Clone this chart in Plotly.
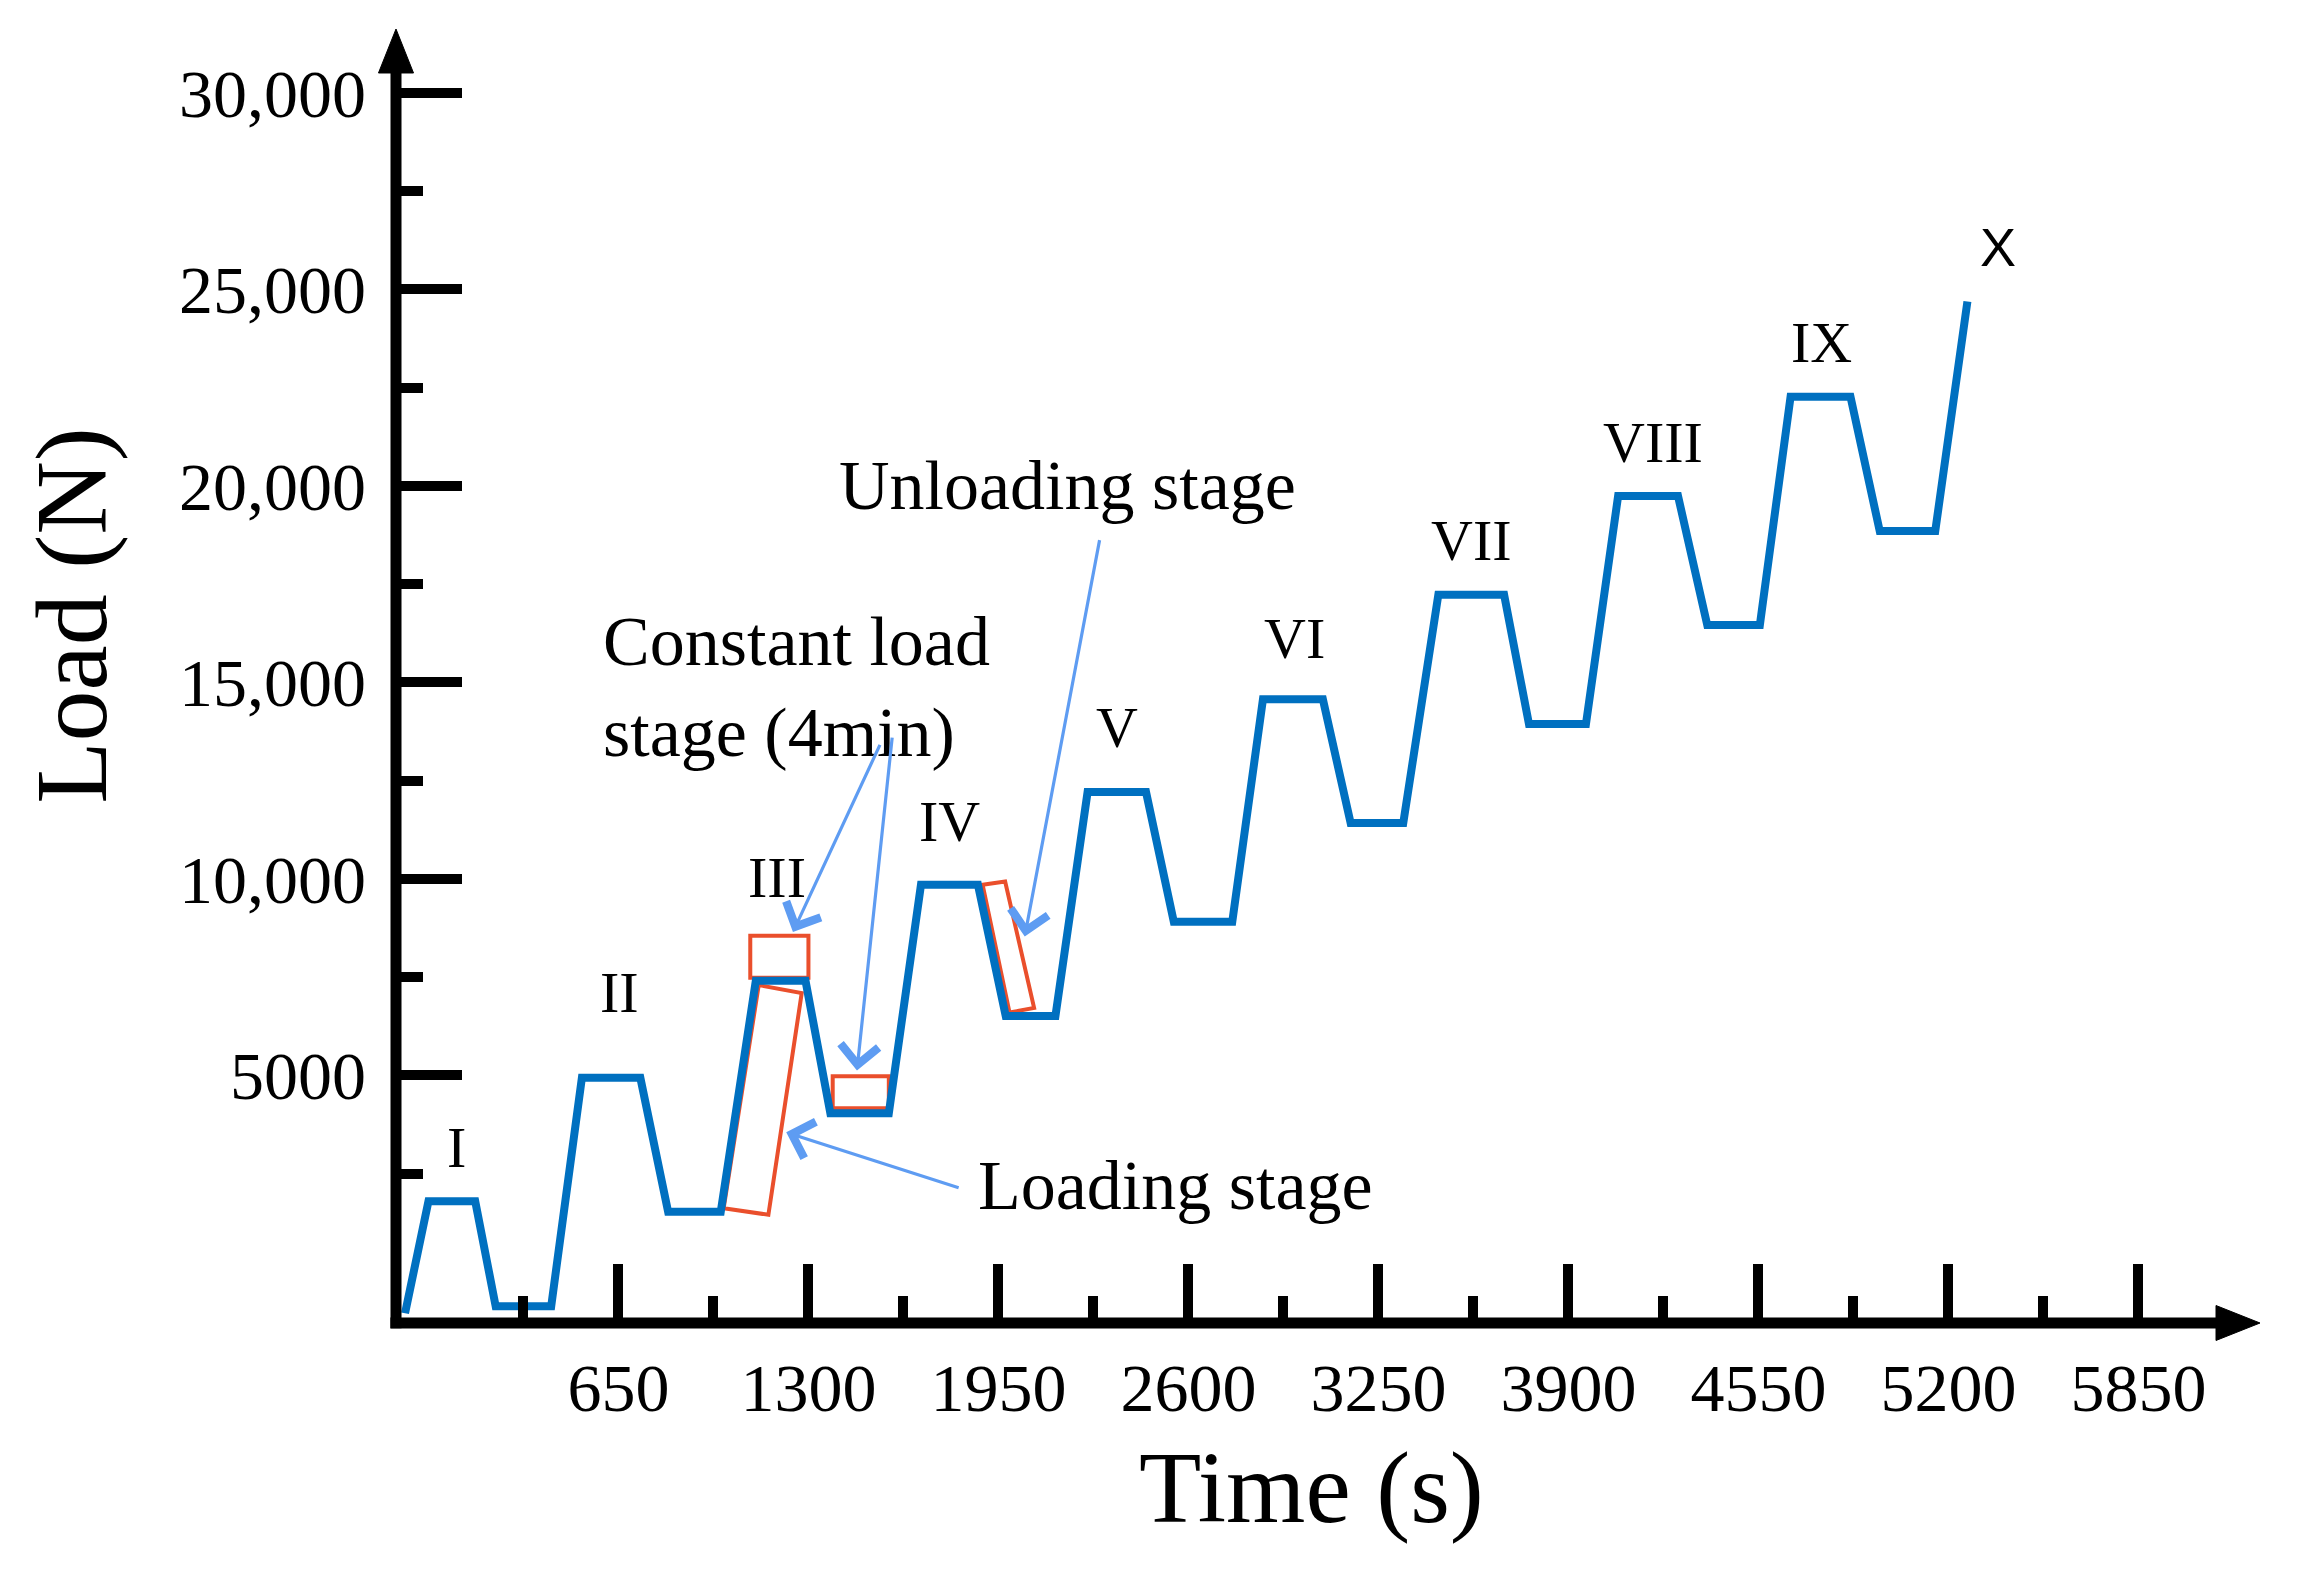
import plotly.graph_objects as go

# load path: time (s) and load (N)
time_s = [-80, 0, 160, 230, 420, 525, 725, 820, 1000, 1120, 1290, 1375, 1575,
          1685, 1880, 1975, 2145, 2255, 2455, 2550, 2750, 2855, 3060, 3155,
          3335, 3455, 3680, 3765, 3960, 4070, 4275, 4375, 4555, 4660, 4865,
          4965, 5155, 5265]
load_n = [-1050, 1800, 1800, -870, -870, 4940, 4940, 1530, 1530, 7410, 7410,
          4040, 4040, 9850, 9850, 6510, 6510, 12210, 12210, 8910, 8910, 14570,
          14570, 11420, 11420, 17230, 17230, 13940, 13940, 19740, 19740, 16460,
          16460, 22270, 22270, 18850, 18850, 24690]

# stage labels
stage_names = ["I", "II", "III", "IV", "V", "VI", "VII", "VIII", "IX", "X"]
stage_t = [96, 655, 1194, 1784, 2355, 2962, 3569, 4189, 4766, 5370]
stage_load = [3177, 7115, 10037, 11461, 13860, 16108, 18620, 21093, 23642, 26078]

# axis ticks
x_ticks = [650, 1300, 1950, 2600, 3250, 3900, 4550, 5200, 5850]
x_minor = [325, 975, 1625, 2275, 2925, 3575, 4225, 4875, 5525]
y_ticks = [5000, 10000, 15000, 20000, 25000, 30000]
y_labels = ["5000", "10,000", "15,000", "20,000", "25,000", "30,000"]
y_minor = [2500, 7500, 12500, 17500, 22500, 27500]

# callouts: text, x, y
callouts = [
    ("Constant load<br>stage (4min)", 589, 14872),
    ("Unloading stage", 1396, 20006),
    ("Loading stage", 1874, 2204),
]
# callout arrows: tail (t, N) -> head (t, N)
arrows = [
    (1547, 13448, 1247, 8650),
    (1587, 13635, 1466, 5127),
    (2297, 18657, 2040, 8537),
    (1819, 2129, 1224, 3553),
]
# red outlines around the marked stages
outlines = [
    [(1101, 7488), (1300, 7488), (1300, 8553), (1101, 8553)],
    [(1383, 4167), (1575, 4167), (1575, 4978), (1383, 4978)],
    [(1010, 1623), (1163, 1455), (1277, 7094), (1130, 7300)],
    [(1896, 9850), (1973, 9935), (2072, 6720), (1988, 6600)],
]

SERIF = "Liberation Serif"
BLUE = "#0070C0"
RED = "#EA4F2C"
LIGHT = "#5E9CF2"

fig = go.Figure()
fig.add_trace(go.Scatter(x=time_s, y=load_n, mode="lines",
                         line=dict(color=BLUE, width=8), hoverinfo="skip"))

for name, t, v in zip(stage_names, stage_t, stage_load):
    fam = "Liberation Sans" if name == "X" else SERIF
    fig.add_annotation(x=t, y=v, text=name, showarrow=False,
                       xanchor="center", yanchor="middle",
                       font=dict(family=fam, size=58 if name != "X" else 54, color="black"))

for txt, t, v in callouts:
    fig.add_annotation(x=t, y=v, text=txt, showarrow=False, xanchor="left",
                       yanchor="middle", align="left",
                       font=dict(family=SERIF, size=70, color="black"))

for t0, v0, t1, v1 in arrows:
    fig.add_annotation(x=t1, y=v1, ax=t0, ay=v0, axref="x", ayref="y", text="",
                       showarrow=True, arrowhead=4, arrowsize=2.3, arrowwidth=3.2,
                       arrowcolor=LIGHT, standoff=0)

for pts in outlines:
    path = "M " + " L ".join(f"{a},{b}" for a, b in pts) + " Z"
    fig.add_shape(type="path", path=path, xref="x", yref="y", layer="below",
                  line=dict(color=RED, width=4))

# axis lines with arrow heads
fig.add_shape(type="line", xref="paper", yref="paper", x0=-0.003, x1=0.98, y0=0, y1=0,
              line=dict(color="black", width=11))
fig.add_shape(type="line", xref="paper", yref="paper", x0=0, x1=0, y0=-0.004, y1=0.97,
              line=dict(color="black", width=11))
fig.add_shape(type="path", xref="paper", yref="paper",
              path="M 1,0 L 0.9764,0.0135 L 0.9764,-0.0135 Z",
              fillcolor="black", line=dict(color="black", width=1))
fig.add_shape(type="path", xref="paper", yref="paper",
              path="M 0,1 L -0.0094,0.966 L 0.0094,0.966 Z",
              fillcolor="black", line=dict(color="black", width=1))

# axis titles
fig.add_annotation(xref="paper", yref="paper", x=0.491, y=-0.127, text="Time (s)",
                   xanchor="center", yanchor="middle", showarrow=False,
                   font=dict(family=SERIF, size=102, color="black"))
fig.add_annotation(xref="paper", yref="paper", x=-0.174, y=0.547, text="Load (N)",
                   xanchor="center", yanchor="middle", textangle=-90, showarrow=False,
                   font=dict(family=SERIF, size=102, color="black"))

fig.update_xaxes(range=[-111, 6266], showgrid=False, zeroline=False, showline=False,
                 tickmode="array", tickvals=x_ticks, ticktext=[str(v) for v in x_ticks],
                 ticks="inside", ticklen=59, tickwidth=10, tickcolor="black",
                 ticklabelstandoff=19,
                 tickfont=dict(family=SERIF, size=68, color="black"),
                 minor=dict(tickmode="array", tickvals=x_minor, ticks="inside",
                            ticklen=27, tickwidth=10, tickcolor="black"))
fig.update_yaxes(range=[-1298, 31624], showgrid=False, zeroline=False, showline=False,
                 tickmode="array", tickvals=y_ticks, ticktext=y_labels,
                 ticks="inside", ticklen=66, tickwidth=10, tickcolor="black",
                 ticklabelstandoff=29,
                 tickfont=dict(family=SERIF, size=68, color="black"),
                 minor=dict(tickmode="array", tickvals=y_minor, ticks="inside",
                            ticklen=27, tickwidth=10, tickcolor="black"))

# page adds an 8px body margin, so the figure is shrunk to fit
fig.update_layout(width=2293, height=1555, showlegend=False,
                  margin=dict(l=388, r=41, t=21, b=240),
                  plot_bgcolor="white", paper_bgcolor="white")

fig.write_html("out.html")
